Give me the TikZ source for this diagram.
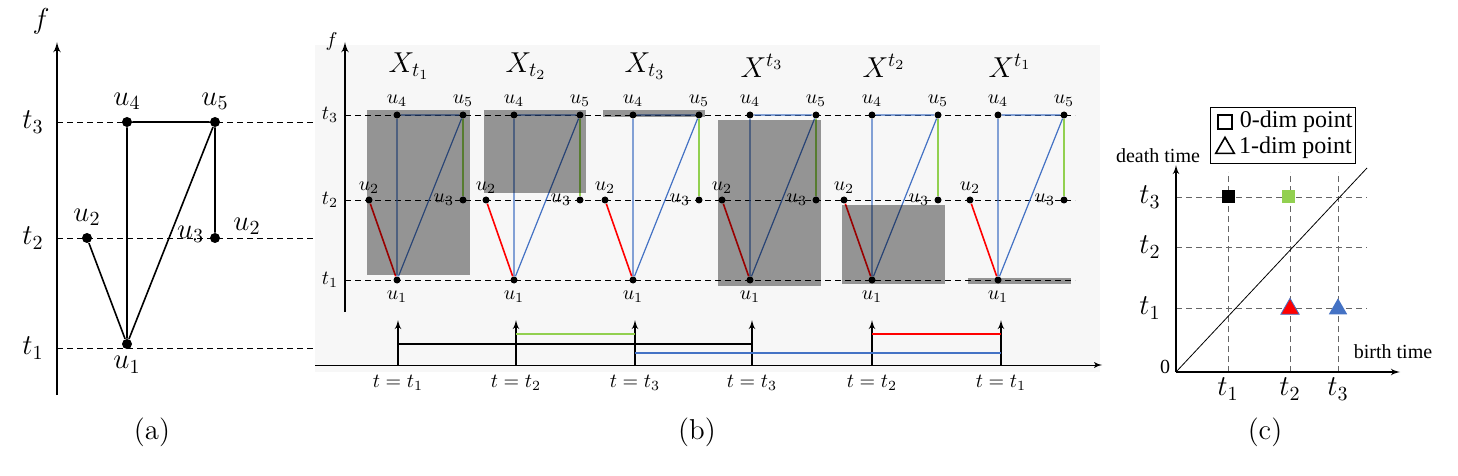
\documentclass[tikz,border=0pt]{standalone}
\usepackage{fontspec}
\newfontfamily\timesfont{Liberation Serif}
\usetikzlibrary{arrows, shapes.geometric}
\definecolor{lblue}{HTML}{4472C4}
\definecolor{lgreen}{HTML}{92D050}
\begin{document}
\begin{tikzpicture}[%
        >=latex',
        x=0.5pt, y=-0.5pt,          % pixel grid of the layout
        font=\Large,
    ]
    \tikzset{
        vtx/.style={circle, fill=black, inner sep=0pt, minimum size=5pt},
        svtx/.style={circle, fill=black, inner sep=0pt, minimum size=3.5pt},
        lvl/.style={densely dashed, thin},
        axis/.style={->, thick},
        shade/.style={fill=black, opacity=0.4, draw=none},
        tick/.style={font=\normalsize},
        grid/.style={densely dashed, very thin, gray!80!black},
        lbl/.style={font=\timesfont\normalsize}
    }
    \useasboundingbox (0,0) rectangle (1458,476);
    %%% (a) the filtration of the graph
    \draw [axis] (57,395) -- (57,42) node [above left] {$f$};
    \foreach \y/\t in {122/3, 238/2, 348/1}{
        \draw [lvl] (57,\y) -- (385,\y);
        \node at (33,\y) {$t_{\t}$};
    }
    \node [vtx] (a4) at (127,122) {};
    \node [vtx] (a5) at (215,122) {};
    \node [vtx] (a2) at (87,238) {};
    \node [vtx] (a3) at (215,238) {};
    \node [vtx] (a1) at (127,344) {};
    \draw [thick] (a4) -- (a5) -- (a1) -- (a4) (a5) -- (a3) (a2) -- (a1);
    \node [above] at (a4.north) {$u_4$};
    \node [above] at (a5.north) {$u_5$};
    \node [above] at (a2.north) {$u_2$};
    \node [left] at (a3.north west) {$u_3$};
    \node at (247,226) {$u_2$};
    \node [below] at (a1.south) {$u_1$};
    \node at (152,432) {(a)};
    %%% (b) sublevel and superlevel sets
    \fill [gray!6] (315,45) rectangle (1100,372);
    \draw [axis] (345,312) -- (345,42) node [left, tick] {$f$};
    \foreach \y/\t in {115/3, 200/2, 280/1}{
        \draw [lvl] (345,\y) -- (1075,\y);
        \node [tick] at (330,\y) {$t_{\t}$};
    }
    \foreach \i/\x/\ttl in {1/397/{X_{t_1}}, 2/514/{X_{t_2}}, 3/633/{X_{t_3}},
                          4/750/{X^{t_3}}, 5/872/{X^{t_2}}, 6/998/{X^{t_1}}}{
        \node at (\x+12,66) {$\ttl$};
        \node [svtx] (u1-\i) at (\x,280) {};
        \node [svtx] (u2-\i) at (\x-28,200) {};
        \node [svtx] (u3-\i) at (\x+66,200) {};
        \node [svtx] (u4-\i) at (\x,115) {};
        \node [svtx] (u5-\i) at (\x+66,115) {};
        \draw [lblue, semithick] (u4-\i) -- (u5-\i) -- (u1-\i) -- (u4-\i);
        \draw [red, thick] (u2-\i) -- (u1-\i);
        \draw [lgreen, thick] (u5-\i) -- (u3-\i);
    }
    % shaded parts of each set
    \fill [shade] (367,110) rectangle (470,275);
    \fill [shade] (484,110) rectangle (586,193);
    \fill [shade] (603,110) rectangle (705,117);
    \fill [shade] (718,120) rectangle (821,286);
    \fill [shade] (842,205) rectangle (945,284);
    \fill [shade] (968,278) rectangle (1071,284);
    \foreach \i in {1,...,6}{
        \node [tick, above=-1pt] at (u4-\i.north) {$u_4$};
        \node [tick, above=-1pt] at (u5-\i.north) {$u_5$};
        \node [tick, anchor=south, yshift=-2pt] at (u2-\i.north) {$u_2$};
        \node [tick, left=-1pt] at (u3-\i.west) {$u_3$};
        \node [tick, below=0pt] at (u1-\i.south) {$u_1$};
    }
    % barcode
    \draw [->] (315,365) -- (1102,365);
    \foreach \x/\t in {398/1, 516/2, 635/3, 752/3, 872/2, 1001/1}{
        \draw [->, semithick] (\x,365) -- (\x,320) coordinate (b\x);
        \node [tick] at (\x,383) {$t=t_{\t}$};
    }
    \draw [semithick] (398,344) -- (752,344);
    \draw [lgreen, semithick] (516,334) -- (635,334);
    \draw [lblue, semithick] (635,353) -- (1001,353);
    \draw [red, semithick] (872,334) -- (1001,334);
    \node at (697,432) {(b)};
    %%% (c) persistence diagram
    \foreach \x in {1228,1290,1338}
        \draw [grid] (\x,372) -- (\x,172);
    \foreach \y in {197,247,308}
        \draw [grid] (1176,\y) -- (1367,\y);
    \draw [axis, semithick] (1176,372) -- (1400,372);
    \draw [axis, semithick] (1176,372) -- (1176,165);
    \draw [thin] (1176,372) -- (1367,168);
    \foreach \x/\t in {1228/1,1290/2,1338/3}
        \node at (\x,389) {$t_{\t}$};
    \foreach \y/\t in {197/3,247/2,308/1}
        \node at (1150,\y) {$t_{\t}$};
    \node [lbl] at (1165,367) {0};
    \node [lbl] at (1393,352) {birth time};
    \node [lbl] at (1158,156) {death time};
    \node [rectangle, fill=black, minimum size=6.5pt, inner sep=0pt] (p1) at (1228,197) {};
    \node [rectangle, fill=lgreen, minimum size=6.5pt, inner sep=0pt] (p2) at (1288,197) {};
    \node [isosceles triangle, shape border rotate=90, fill=red, draw=lblue, inner sep=0pt,
        minimum size=8pt, isosceles triangle apex angle=60] (p3) at (1290,309) {};
    \node [isosceles triangle, shape border rotate=90, fill=lblue, inner sep=0pt,
        minimum size=8pt, isosceles triangle apex angle=60] (p4) at (1338,309) {};
    % legend
    \draw [thin] (1210,107) rectangle (1355,163);
    \node [draw, thick, minimum size=7pt, inner sep=0pt] (s0) at (1225,122) {};
    \node [lbl, font=\timesfont\large, right=0pt] at (s0.east) {0-dim point};
    \node [draw, thick, isosceles triangle, shape border rotate=90, inner sep=0pt,
        minimum size=8pt, isosceles triangle apex angle=60] (s1) at (1225,148) {};
    \node [lbl, font=\timesfont\large, right=0pt] at (s1.east) {1-dim point};
    \node at (1265,432) {(c)};
\end{tikzpicture}
\end{document}
